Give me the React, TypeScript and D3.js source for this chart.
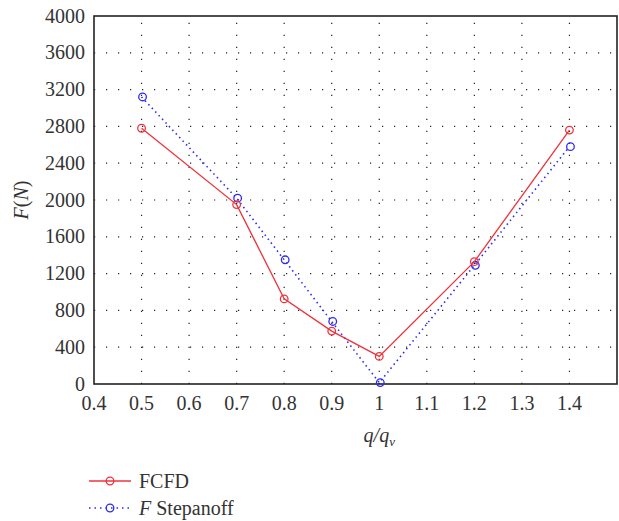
import React from "react";
import * as d3 from "d3";

// Flow ratio q/qv at each operating point
const flowRatio = [0.5, 0.7, 0.8, 0.9, 1.0, 1.2, 1.4];
// Radial force from CFD (N)
const forceCFD = [2780, 1950, 925, 575, 300, 1330, 2760];
// Radial force from the Stepanoff formula (N)
const forceStepanoff = [3120, 2020, 1350, 680, 15, 1290, 2580];

const xTicks = [0.4, 0.5, 0.6, 0.7, 0.8, 0.9, 1.0, 1.1, 1.2, 1.3, 1.4];
const yTicks = [0, 400, 800, 1200, 1600, 2000, 2400, 2800, 3200, 3600, 4000];

const W = 619;
const H = 521;
const left = 94;
const right = 617;
const top = 16;
const bottom = 384;
const FONT = "Liberation Serif";
const TEXT = "#333";
const RED = "#f0323c";
const BLUE = "#2b2bf5";

export default function App() {
  const x = d3.scaleLinear().domain([0.4, 1.5]).range([left, right]);
  const y = d3.scaleLinear().domain([0, 4000]).range([bottom, top]);

  const line = d3
    .line<number>()
    .x((_, i) => x(flowRatio[i]))
    .y((d) => y(d));

  const fmtX = (v: number) => (v === 1 ? "1" : v.toFixed(1));

  return (
    <svg width={W} height={H} style={{ position: "absolute", left: 0, top: 0, background: "#fff" }}>
      <style>{`.lbl { font-family: "${FONT}", serif; font-size: 20px; fill: ${TEXT}; }`}</style>
      {/* dotted grid */}
      <g stroke="#222" strokeWidth={1.2}>
        {xTicks
          .filter((t) => t > 0.4)
          .map((t) => (
            <line
              key={`gx${t}`}
              x1={x(t)}
              x2={x(t)}
              y1={bottom}
              y2={top}
              strokeDasharray="1.2 10.8"
            />
          ))}
        {yTicks
          .filter((t) => t > 0 && t < 4000)
          .map((t) => (
            <line
              key={`gy${t}`}
              x1={left}
              x2={right}
              y1={y(t)}
              y2={y(t)}
              strokeDasharray="1.2 10.8"
            />
          ))}
      </g>

      {/* frame */}
      <rect
        x={left}
        y={top}
        width={right - left}
        height={bottom - top}
        fill="none"
        stroke="#222"
        strokeWidth={1.6}
      />

      {/* y tick labels */}
      {yTicks.map((t) => (
        <text key={`yl${t}`} className="lbl" x={85} y={y(t) + 6.5} textAnchor="end">
          {t}
        </text>
      ))}

      {/* x tick labels */}
      {xTicks.map((t) => (
        <text key={`xl${t}`} className="lbl" x={x(t)} y={410} textAnchor="middle">
          {fmtX(t)}
        </text>
      ))}

      {/* axis titles */}
      <text className="lbl" transform="translate(28, 200) rotate(-90)" textAnchor="middle">
        <tspan fontStyle="italic">F</tspan>
        <tspan>(</tspan>
        <tspan fontStyle="italic">N</tspan>
        <tspan>)</tspan>
      </text>
      <text className="lbl" x={x(1.0)} y={442} textAnchor="middle" fontStyle="italic">
        q/q
        <tspan fontSize={13} dy={4}>
          v
        </tspan>
      </text>

      {/* Stepanoff series */}
      <path
        d={line(forceStepanoff) ?? ""}
        fill="none"
        stroke={BLUE}
        strokeWidth={1.6}
        strokeDasharray="1.5 3.5"
      />
      {forceStepanoff.map((v, i) => (
        <circle
          key={`s${i}`}
          cx={x(flowRatio[i]) + 1}
          cy={y(v)}
          r={3.8}
          fill="none"
          stroke={BLUE}
          strokeWidth={1.3}
        />
      ))}

      {/* CFD series */}
      <path d={line(forceCFD) ?? ""} fill="none" stroke={RED} strokeWidth={1.3} />
      {forceCFD.map((v, i) => (
        <circle
          key={`c${i}`}
          cx={x(flowRatio[i])}
          cy={y(v)}
          r={3.8}
          fill="none"
          stroke={RED}
          strokeWidth={1.3}
        />
      ))}

      {/* legend */}
      <line x1={89} x2={131} y1={481} y2={481} stroke={RED} strokeWidth={1.3} />
      <circle cx={110} cy={481} r={3.8} fill="none" stroke={RED} strokeWidth={1.3} />
      <text className="lbl" x={139} y={488}>
        FCFD
      </text>
      <line
        x1={89}
        x2={131}
        y1={508}
        y2={508}
        stroke={BLUE}
        strokeWidth={1.6}
        strokeDasharray="1.5 4"
      />
      <circle cx={110} cy={508} r={3.8} fill="none" stroke={BLUE} strokeWidth={1.3} />
      <text className="lbl" x={139} y={515}>
        <tspan fontStyle="italic">F</tspan> Stepanoff
      </text>
    </svg>
  );
}
